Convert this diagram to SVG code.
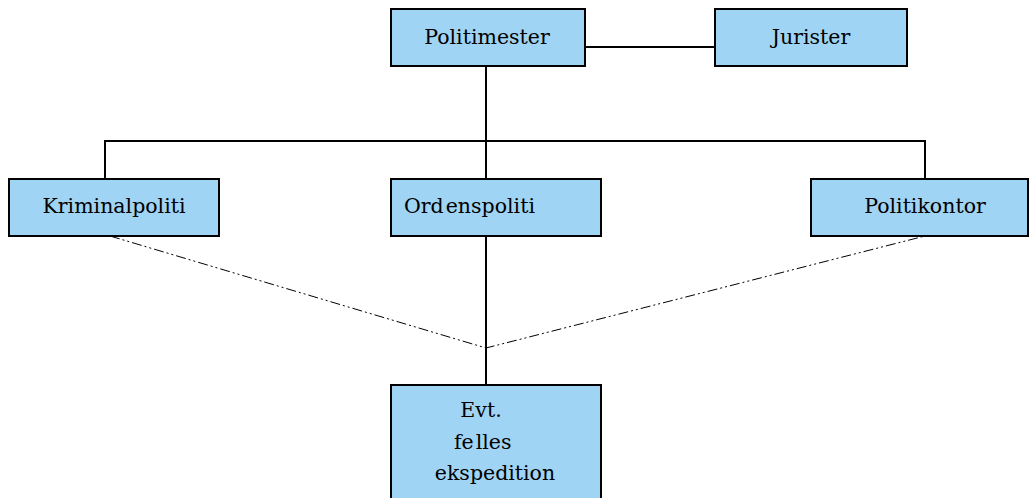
<svg xmlns="http://www.w3.org/2000/svg" width="1029" height="498" viewBox="0 0 1029 498">
<style>
.box{fill:#a0d4f4;stroke:#000;stroke-width:2}
.t{font-family:'DejaVu Serif',serif;font-size:20.5px;fill:#000}
.ln{stroke:#000;stroke-width:2;fill:none}
.dd{stroke:#000;stroke-width:1;fill:none;stroke-dasharray:10 3 2 3 2 3}
</style>
<rect width="1029" height="498" fill="#fff"/>
<g id="connectors">
<line class="ln" x1="585" y1="47" x2="715" y2="47"/>
<line class="ln" x1="486" y1="66" x2="486" y2="179"/>
<polyline class="ln" points="105,179 105,141 925,141 925,179"/>
<line class="ln" x1="486" y1="236" x2="486" y2="385"/>
<polyline class="dd" points="110,236 486,348 925,236"/>
</g>
<g id="politimester"><rect class="box" x="391" y="9" width="194" height="57"/><text class="t" x="487" y="44" text-anchor="middle">Politimester</text></g>
<g id="jurister"><rect class="box" x="715" y="9" width="192" height="57"/><text class="t" x="811" y="44" text-anchor="middle">Jurister</text></g>
<g id="kriminalpoliti"><rect class="box" x="9" y="179" width="210" height="57"/><text class="t" x="114" y="213" text-anchor="middle">Kriminalpoliti</text></g>
<g id="ordenspoliti"><rect class="box" x="391" y="179" width="210" height="57"/><text class="t" x="404" y="213">Ord<tspan dx="2">enspoliti</tspan></text></g>
<g id="politikontor"><rect class="box" x="811" y="179" width="217" height="57"/><text class="t" x="925" y="213" text-anchor="middle">Politikontor</text></g>
<g id="ekspedition"><rect class="box" x="391" y="385" width="210" height="120"/>
<text class="t" x="481" y="417" text-anchor="middle">Evt.</text>
<text class="t" x="454" y="449">fe<tspan dx="2">lles</tspan></text>
<text class="t" x="495" y="480" text-anchor="middle">ekspedition</text></g>
</svg>
